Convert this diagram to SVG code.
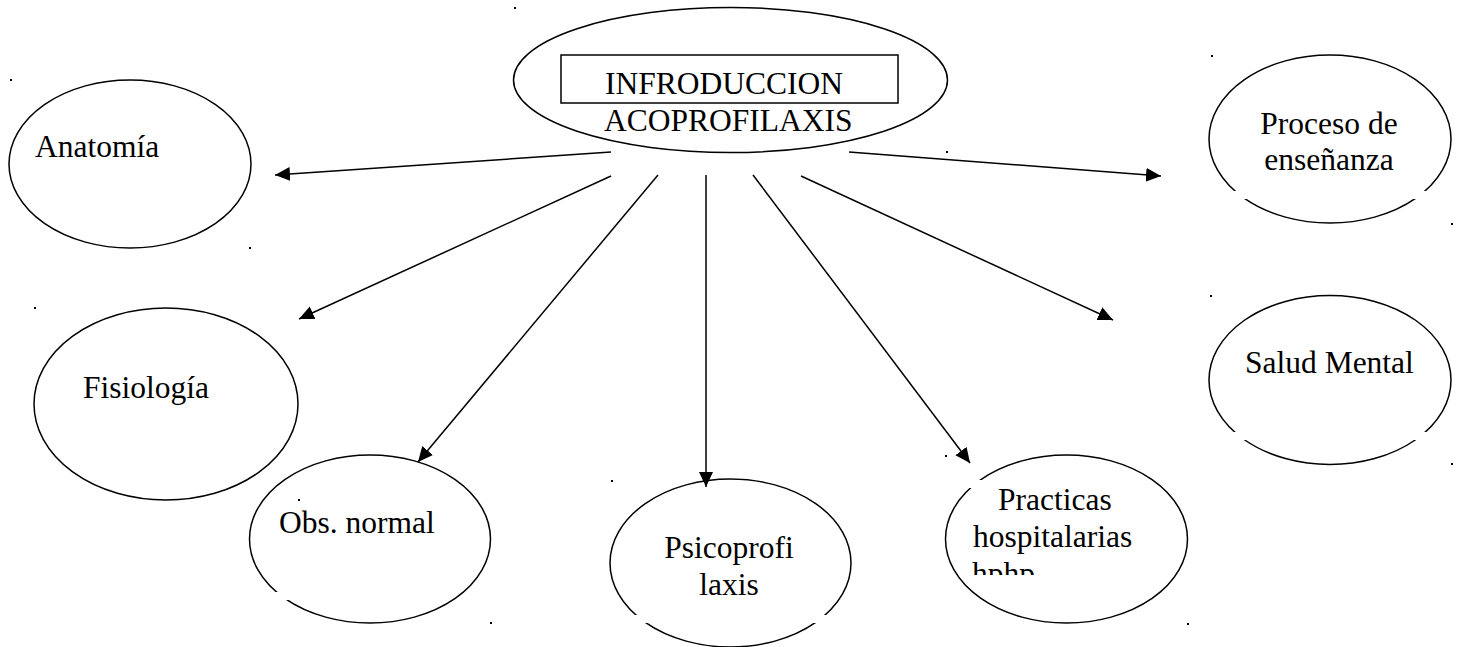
<svg xmlns="http://www.w3.org/2000/svg" width="1457" height="647" viewBox="0 0 1457 647">
<style>
.n{fill:none;stroke:#000;stroke-width:1.5}
.t{font-family:"Liberation Serif","Times New Roman",serif;font-size:31.5px;fill:#000}
.c{text-anchor:middle}
.e{stroke:#000;stroke-width:1.5;fill:none;marker-end:url(#ah)}
.g{fill:#fff;stroke:none}
.d{fill:#000}
</style>
<defs>
<marker id="ah" markerUnits="userSpaceOnUse" markerWidth="16" markerHeight="15" refX="15" refY="7" orient="auto">
<path d="M0,0 L15,7 L0,14 z" fill="#000"/>
</marker>
<clipPath id="pclip"><rect x="940" y="440" width="260" height="135"/></clipPath>
</defs>
<rect width="1457" height="647" fill="#fff"/>

<g id="edges">
<line class="e" x1="611" y1="152" x2="275" y2="175"/>
<line class="e" x1="849" y1="152" x2="1161" y2="176"/>
<line class="e" x1="611" y1="176" x2="299" y2="319"/>
<line class="e" x1="658" y1="175" x2="418" y2="462"/>
<line class="e" x1="706" y1="175" x2="706" y2="487"/>
<line class="e" x1="753" y1="175" x2="970" y2="463"/>
<line class="e" x1="801" y1="176" x2="1113" y2="320"/>
</g>

<g id="center">
<ellipse class="n" cx="730.5" cy="80" rx="217" ry="72.5"/>
<rect class="n" x="561" y="55" width="337" height="48"/>
<text class="t" x="605" y="94">INFRODUCCION</text>
<text class="t" x="604" y="131">ACOPROFILAXIS</text>
</g>

<g id="anatomia">
<ellipse class="n" cx="130" cy="164" rx="121" ry="84"/>
<text class="t" x="35" y="157">Anatomía</text>
</g>

<g id="fisiologia">
<ellipse class="n" cx="166" cy="404" rx="132" ry="96"/>
<text class="t" x="83" y="398">Fisiología</text>
</g>

<g id="obs">
<ellipse class="n" cx="370" cy="539" rx="120.5" ry="84"/>
<rect class="g" x="255" y="592" width="45" height="8"/>
<text class="t" x="279" y="533">Obs. normal</text>
</g>

<g id="psico">
<ellipse class="n" cx="730.5" cy="563" rx="120.5" ry="84"/>
<rect class="g" x="600" y="615" width="260" height="8"/>
<text class="t c" x="729" y="558">Psicoprofi</text>
<text class="t c" x="729" y="595">laxis</text>
</g>

<g id="practicas">
<ellipse class="n" cx="1066.5" cy="539" rx="121" ry="84"/>
<rect class="g" x="955" y="480" width="40" height="8"/>
<g clip-path="url(#pclip)">
<text class="t" x="998" y="510">Practicas</text>
<text class="t" x="973" y="547">hospitalarias</text>
<text class="t" x="972" y="584">hphp</text>
</g>
</g>

<g id="proceso">
<ellipse class="n" cx="1330" cy="139" rx="121" ry="84"/>
<rect class="g" x="1200" y="191" width="257" height="8"/>
<text class="t c" x="1329" y="134">Proceso de</text>
<text class="t c" x="1329" y="170">enseñanza</text>
</g>

<g id="salud">
<ellipse class="n" cx="1330" cy="380" rx="121" ry="84.5"/>
<rect class="g" x="1200" y="432" width="257" height="8"/>
<text class="t" x="1245" y="373">Salud Mental</text>
</g>

<g id="dots">
<rect class="d" x="514" y="7" width="2" height="2"/>
<rect class="d" x="10" y="79" width="2" height="2"/>
<rect class="d" x="249" y="247" width="2" height="2"/>
<rect class="d" x="34" y="307" width="2" height="2"/>
<rect class="d" x="298" y="499" width="2" height="2"/>
<rect class="d" x="490" y="622" width="2" height="2"/>
<rect class="d" x="611" y="480" width="2" height="2"/>
<rect class="d" x="945" y="455" width="2" height="2"/>
<rect class="d" x="1187" y="623" width="2" height="2"/>
<rect class="d" x="946" y="151" width="2" height="2"/>
<rect class="d" x="1211" y="55" width="2" height="2"/>
<rect class="d" x="1451" y="223" width="2" height="2"/>
<rect class="d" x="1210" y="295" width="2" height="2"/>
<rect class="d" x="1451" y="463" width="2" height="2"/>
</g>
</svg>
